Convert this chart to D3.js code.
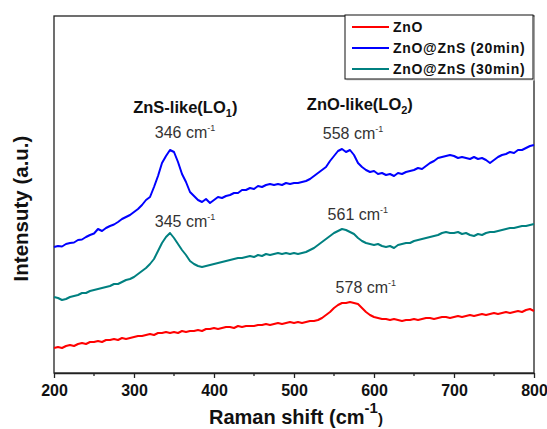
<!DOCTYPE html>
<html>
<head>
<meta charset="utf-8">
<script src="https://cdn.jsdelivr.net/npm/d3@7"></script>
<style>
  body { margin: 0; background: #fff; }
  svg { display: block; font-family: Arial, "Liberation Sans", sans-serif; }
</style>
</head>
<body>
<div id="chart"></div>
<script>
// wavenumber sampling (cm-1), one reading every 5 cm-1
var ramanShift = d3.range(200, 801, 5);

// intensities (a.u.)
var zno = [
  25, 26, 25, 27, 28, 27, 29, 30, 29, 31,
  31, 32, 31, 33, 33, 34, 33, 35, 34, 35,
  36, 37, 37, 38, 39, 38, 40, 40, 41, 40,
  41, 40, 42, 41, 42, 42, 43, 42, 44, 44,
  45, 44, 45, 46, 46, 45, 47, 46, 47, 47,
  47, 48, 48, 49, 48, 49, 50, 49, 50, 51,
  50, 51, 50, 51, 52, 52, 53, 55, 58, 61,
  65, 68, 70, 70, 71, 70, 69, 65, 61, 58,
  56, 55, 54, 54, 53, 54, 53, 52, 53, 53,
  54, 53, 54, 55, 55, 54, 55, 56, 56, 55,
  56, 57, 56, 57, 58, 57, 58, 59, 58, 59,
  60, 59, 60, 61, 60, 61, 62, 61, 63, 64,
  62];

var znoZns20 = [
  126, 127, 126.5, 129, 130, 130.5, 133, 133.5, 136, 138,
  139.5, 144, 142, 145, 147, 148.5, 151, 154, 156, 158,
  161, 164, 168, 173, 176, 186, 197, 210, 217, 223,
  221, 211, 199, 191, 181, 177, 173, 171, 174, 170,
  173, 176, 175, 177, 178, 180, 180, 183, 183, 185,
  184, 187, 186, 188, 189, 188, 189, 188, 190, 189,
  190, 190, 191, 192, 194, 197, 200, 203, 206, 212,
  217, 222, 224, 221, 223, 218, 210, 206, 203, 201,
  202, 199, 200, 198, 199, 197, 200, 199, 201, 202,
  203, 205, 204, 207, 210, 212, 215, 216, 217, 218,
  217, 215, 216, 215, 214, 216, 214, 215, 213, 210,
  213, 216, 218, 219, 221, 220, 223, 223, 225, 227,
  228];

var znoZns30 = [
  76, 75, 73, 74, 76, 77, 78, 80, 80, 82,
  83, 84, 85, 86, 87, 89, 89, 91, 93, 94,
  96, 99, 102, 105, 109, 114, 122, 130, 136, 140,
  135, 129, 123, 118, 112, 109, 107, 106, 107, 108,
  109, 110, 111, 112, 113, 114, 115, 115, 116, 117,
  116, 118, 117, 119, 118, 119, 120, 119, 120, 119,
  120, 119, 120, 121, 123, 125, 128, 131, 134, 137,
  140, 142, 144, 143, 141, 139, 135, 132, 130, 129,
  128, 129, 127, 126, 127, 125, 128, 129, 130, 130,
  132, 133, 134, 135, 136, 137, 138, 140, 141, 140,
  140, 141, 139, 140, 138, 137, 139, 138, 140, 141,
  141, 142, 143, 144, 145, 145, 146, 147, 147, 148,
  149];

var seriesNames = ["ZnO", "ZnO@ZnS (20min)", "ZnO@ZnS (30min)"];
var seriesColors = ["#ff0000", "#0000ff", "#008080"];
var xTicks = [200, 300, 400, 500, 600, 700, 800];

// peak labels, anchored in data units (start of text)
var peakLabels = [
  { x: 326, y: 235, text: "346 cm" },
  { x: 326, y: 146, text: "345 cm" },
  { x: 536, y: 234, text: "558 cm" },
  { x: 542, y: 153, text: "561 cm" },
  { x: 552, y: 80, text: "578 cm" }
];
var bandLabels = [
  { x: 299, y: 260, text: "ZnS-like(LO", sub: "1" },
  { x: 516, y: 263, text: "ZnO-like(LO", sub: "2" }
];

var width = 547;
var height = 429;
var margin = { top: 16, right: 13, bottom: 56, left: 54 };

var svg = d3.select("#chart")
  .append("svg")
  .attr("width", width)
  .attr("height", height);

var x = d3.scaleLinear()
  .domain([200, 800])
  .range([margin.left, width - margin.right]);

var y = d3.scaleLinear()
  .domain([0, 357])
  .range([height - margin.bottom, margin.top]);

// frame (top + right)
svg.append("rect")
  .attr("x", x(200))
  .attr("y", y(357))
  .attr("width", x(800) - x(200))
  .attr("height", y(0) - y(357))
  .attr("fill", "none")
  .attr("stroke", "#222")
  .attr("stroke-width", 1.3);

// x axis, ticks pointing out, minor every 50
var xAxis = svg.append("g")
  .attr("transform", "translate(0," + y(0) + ")")
  .call(d3.axisBottom(x).tickValues(xTicks).tickSize(5).tickSizeOuter(0).tickFormat(d3.format("d")));
xAxis.select(".domain").attr("stroke", "#222").attr("stroke-width", 1.3);
xAxis.selectAll(".tick line").attr("stroke", "#222").attr("stroke-width", 1.3);
xAxis.selectAll(".tick text")
  .attr("dy", "0.95em")
  .style("font-size", "16px")
  .style("font-weight", "bold")
  .style("fill", "#111");

svg.append("g")
  .selectAll("line")
  .data(d3.range(250, 800, 100))
  .enter()
  .append("line")
  .attr("x1", function(d) { return x(d); })
  .attr("x2", function(d) { return x(d); })
  .attr("y1", y(0))
  .attr("y2", y(0) + 3)
  .attr("stroke", "#222")
  .attr("stroke-width", 1.3);

// spectra
var line = d3.line()
  .x(function(d) { return x(d[0]); })
  .y(function(d) { return y(d[1]); });

[zno, znoZns20, znoZns30].forEach(function(vals, i) {
  svg.append("path")
    .datum(ramanShift.map(function(r, j) { return [r, vals[j]]; }))
    .attr("fill", "none")
    .attr("stroke", seriesColors[i])
    .attr("stroke-width", 2)
    .attr("stroke-linejoin", "round")
    .attr("d", line);
});

// peak labels
var peaks = svg.append("g")
  .selectAll("text")
  .data(peakLabels)
  .enter()
  .append("text")
  .attr("x", function(d) { return x(d.x); })
  .attr("y", function(d) { return y(d.y); })
  .style("font-size", "16px")
  .style("fill", "#333");
peaks.append("tspan").text(function(d) { return d.text; });
peaks.append("tspan")
  .attr("dy", -7)
  .style("font-size", "9px")
  .text("-1");

var bands = svg.append("g")
  .selectAll("text")
  .data(bandLabels)
  .enter()
  .append("text")
  .attr("x", function(d) { return x(d.x); })
  .attr("y", function(d) { return y(d.y); })
  .style("font-size", "16.5px")
  .style("font-weight", "bold")
  .style("fill", "#111");
bands.append("tspan").text(function(d) { return d.text; });
bands.append("tspan")
  .attr("dy", 4)
  .style("font-size", "11px")
  .text(function(d) { return d.sub; });
bands.append("tspan")
  .attr("dy", -4)
  .text(")");

// legend
var legend = svg.append("g")
  .attr("transform", "translate(345,15)");
legend.append("rect")
  .attr("x", 1.5)
  .attr("y", 1.5)
  .attr("width", 188)
  .attr("height", 64)
  .attr("fill", "#d8d8d8");
legend.append("rect")
  .attr("width", 188)
  .attr("height", 64)
  .attr("fill", "#fff")
  .attr("stroke", "#111")
  .attr("stroke-width", 1);

var items = legend.selectAll(".item")
  .data(seriesNames)
  .enter()
  .append("g")
  .attr("class", "item")
  .attr("transform", function(d, i) { return "translate(0," + (12 + i * 21) + ")"; });
items.append("line")
  .attr("x1", 7)
  .attr("x2", 44)
  .attr("stroke", function(d, i) { return seriesColors[i]; })
  .attr("stroke-width", 2);
items.append("text")
  .attr("x", 48)
  .attr("y", 5)
  .text(function(d) { return d; })
  .style("font-size", "14px")
  .style("font-weight", "bold")
  .style("letter-spacing", "0.7px")
  .style("fill", "#111");

// axis titles
svg.append("text")
  .attr("transform", "translate(28," + ((y(0) + y(357)) / 2 + 14) + ") rotate(-90)")
  .attr("text-anchor", "middle")
  .style("font-size", "20.5px")
  .style("font-weight", "bold")
  .style("fill", "#111")
  .text("Intensuty (a.u.)");

var xTitle = svg.append("text")
  .attr("x", 209)
  .attr("y", 424)
  .style("font-size", "20px")
  .style("font-weight", "bold")
  .style("fill", "#111");
xTitle.append("tspan").text("Raman shift (cm");
xTitle.append("tspan").attr("dy", -11).style("font-size", "15px").text("-1");
xTitle.append("tspan").attr("dy", 11).style("font-size", "15px").text(")");
</script>
</body>
</html>
